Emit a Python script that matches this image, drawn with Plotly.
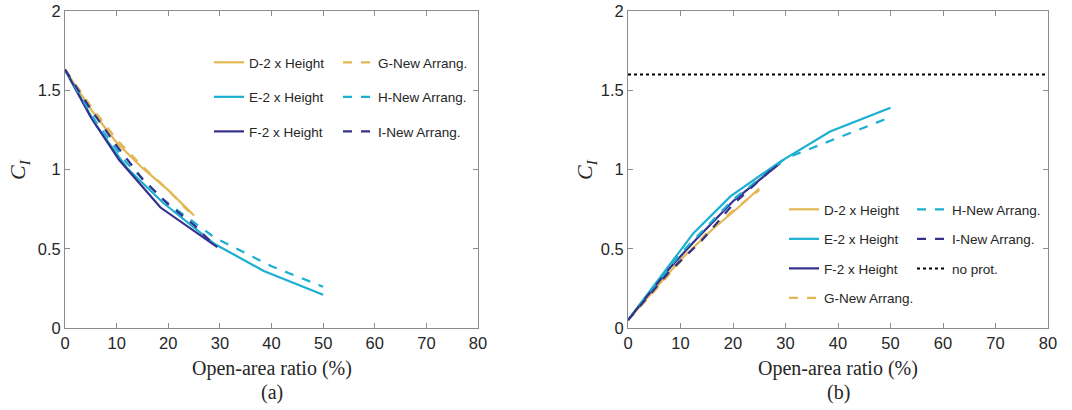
import plotly.graph_objects as go

# ---------------- data ----------------
# Panel (a)
a_D_x = [0, 5, 10, 15, 20, 25]
a_D_y = [1.63, 1.38, 1.17, 1.01, 0.87, 0.71]
a_G_x = [0, 5, 10, 15, 20, 25]
a_G_y = [1.63, 1.40, 1.19, 1.02, 0.87, 0.70]
a_E_x = [0, 6, 12, 19, 29, 38.5, 50]
a_E_y = [1.63, 1.28, 1.01, 0.79, 0.53, 0.36, 0.21]
a_H_x = [0, 6, 12, 19, 29, 40, 50]
a_H_y = [1.63, 1.30, 1.04, 0.81, 0.57, 0.39, 0.26]
a_F_x = [0, 5, 10.5, 18.5, 29.5]
a_F_y = [1.63, 1.33, 1.06, 0.76, 0.51]
a_I_x = [0, 5, 10, 15, 20, 25, 29]
a_I_y = [1.63, 1.38, 1.15, 0.94, 0.78, 0.65, 0.52]

# Panel (b)
b_D_x = [0, 5, 10, 16, 21, 25]
b_D_y = [0.05, 0.24, 0.43, 0.62, 0.76, 0.88]
b_G_x = [0, 5, 10, 15, 20, 25]
b_G_y = [0.05, 0.23, 0.42, 0.60, 0.74, 0.87]
b_E_x = [0, 12.5, 19.5, 29, 38.5, 50]
b_E_y = [0.05, 0.60, 0.83, 1.05, 1.24, 1.39]
b_H_x = [0, 10, 20, 30, 40, 50]
b_H_y = [0.05, 0.47, 0.81, 1.07, 1.20, 1.33]
b_F_x = [0, 8, 13, 20, 29]
b_F_y = [0.05, 0.38, 0.56, 0.80, 1.04]
b_I_x = [0, 8, 14, 20, 28]
b_I_y = [0.05, 0.36, 0.55, 0.78, 1.02]
noprot_x = [0, 80]
noprot_y = [1.60, 1.60]

x_ticks = [0, 10, 20, 30, 40, 50, 60, 70, 80]
y_ticks = [0, 0.5, 1, 1.5, 2]
y_ticklabels = ["0", "0.5", "1", "1.5", "2"]

# ---------------- style ----------------
YEL = "#E2B854"
CYA = "#1BB0D2"
NAV = "#35308C"
W = 2.2

fig = go.Figure()

def add(x, y, name, color, dash, xa, ya, legend, group):
    fig.add_trace(go.Scatter(
        x=x, y=y, mode="lines", name=name,
        line=dict(color=color, width=W, dash=dash),
        xaxis=xa, yaxis=ya, legend=legend, legendgroup=group,
        showlegend=True, hoverinfo="skip"))

# panel (a)
add(a_D_x, a_D_y, "D-2 x Height", YEL, "solid", "x", "y", "legend", "aD")
add(a_E_x, a_E_y, "E-2 x Height", CYA, "solid", "x", "y", "legend", "aE")
add(a_F_x, a_F_y, "F-2 x Height", NAV, "solid", "x", "y", "legend", "aF")
add(a_G_x, a_G_y, "G-New Arrang.", YEL, "dash", "x", "y", "legend2", "aG")
add(a_H_x, a_H_y, "H-New Arrang.", CYA, "dash", "x", "y", "legend2", "aH")
add(a_I_x, a_I_y, "I-New Arrang.", NAV, "dash", "x", "y", "legend2", "aI")

# panel (b)
add(b_D_x, b_D_y, "D-2 x Height", YEL, "solid", "x2", "y2", "legend3", "bD")
add(b_E_x, b_E_y, "E-2 x Height", CYA, "solid", "x2", "y2", "legend3", "bE")
add(b_F_x, b_F_y, "F-2 x Height", NAV, "solid", "x2", "y2", "legend3", "bF")
add(b_G_x, b_G_y, "G-New Arrang.", YEL, "dash", "x2", "y2", "legend3", "bG")
add(b_H_x, b_H_y, "H-New Arrang.", CYA, "dash", "x2", "y2", "legend4", "bH")
add(b_I_x, b_I_y, "I-New Arrang.", NAV, "dash", "x2", "y2", "legend4", "bI")
fig.add_trace(go.Scatter(
    x=noprot_x, y=noprot_y, mode="lines", name="no prot.",
    line=dict(color="black", width=2, dash="dot"),
    xaxis="x2", yaxis="y2", legend="legend4", legendgroup="bN",
    showlegend=True, hoverinfo="skip"))

FW, FH = 1072, 410
def px(v): return v / FW
def py(v): return 1 - v / FH

AX = "#8C8C8C"
tickfont = dict(family="Liberation Sans, Arial, sans-serif", size=16.5, color="#262626")
common_x = dict(range=[0, 80], tickvals=x_ticks, ticks="inside", ticklen=5,
                tickcolor=AX, showline=True, linecolor=AX, linewidth=1,
                mirror="ticks", showgrid=False, zeroline=False, tickfont=tickfont,
                automargin=False)
common_y = dict(range=[0, 2], tickvals=y_ticks, ticktext=y_ticklabels,
                ticks="inside", ticklen=5, tickcolor=AX, showline=True,
                linecolor=AX, linewidth=1, mirror="ticks", showgrid=False,
                zeroline=False, tickfont=tickfont, automargin=False,
                ticklabeloverflow="allow")

legfont = dict(family="Liberation Sans, Arial, sans-serif", size=13.5, color="#262626")
def leg(x, ytop, gap):
    return dict(x=px(x), y=py(ytop), xanchor="left", yanchor="top",
                xref="paper", yref="paper", bgcolor="rgba(0,0,0,0)",
                font=legfont, tracegroupgap=gap, itemwidth=30,
                orientation="v", traceorder="grouped")

serif = "Liberation Serif, Times New Roman, serif"
annotations = []
for cx, lab in [((65 + 478) / 2, "(a)"), ((628 + 1048) / 2, "(b)")]:
    annotations.append(dict(x=px(cx), y=py(368), xref="paper", yref="paper",
                            text="Open-area ratio (%)", showarrow=False,
                            font=dict(family=serif, size=20, color="#262626"),
                            xanchor="center", yanchor="middle"))
    annotations.append(dict(x=px(cx), y=py(392), xref="paper", yref="paper",
                            text=lab, showarrow=False,
                            font=dict(family=serif, size=20, color="#262626"),
                            xanchor="center", yanchor="middle"))
for cx in [19, 586]:
    annotations.append(dict(x=px(cx), y=py(170), xref="paper", yref="paper",
                            text="<i>C</i><sub><i>I</i></sub>", showarrow=False,
                            textangle=-90,
                            font=dict(family=serif, size=22, color="#262626"),
                            xanchor="center", yanchor="middle"))

fig.update_layout(
    width=FW, height=FH,
    margin=dict(l=0, r=0, t=0, b=0, autoexpand=False),
    paper_bgcolor="white", plot_bgcolor="white",
    xaxis=dict(domain=[px(65), px(478)], anchor="y", **common_x),
    yaxis=dict(domain=[py(328), py(11)], anchor="x", **common_y),
    xaxis2=dict(domain=[px(628), px(1048)], anchor="y2", **common_x),
    yaxis2=dict(domain=[py(328), py(11)], anchor="x2", **common_y),
    legend=leg(209, 47, 14),
    legend2=leg(338, 47, 14),
    legend3=leg(784, 194, 9),
    legend4=leg(912, 194, 9),
    annotations=annotations,
    showlegend=True,
    hovermode=False,
)

fig.write_html("out.html",
               config={"displayModeBar": False, "staticPlot": True},
               post_script="document.body.style.margin='0';document.body.style.padding='0';")
